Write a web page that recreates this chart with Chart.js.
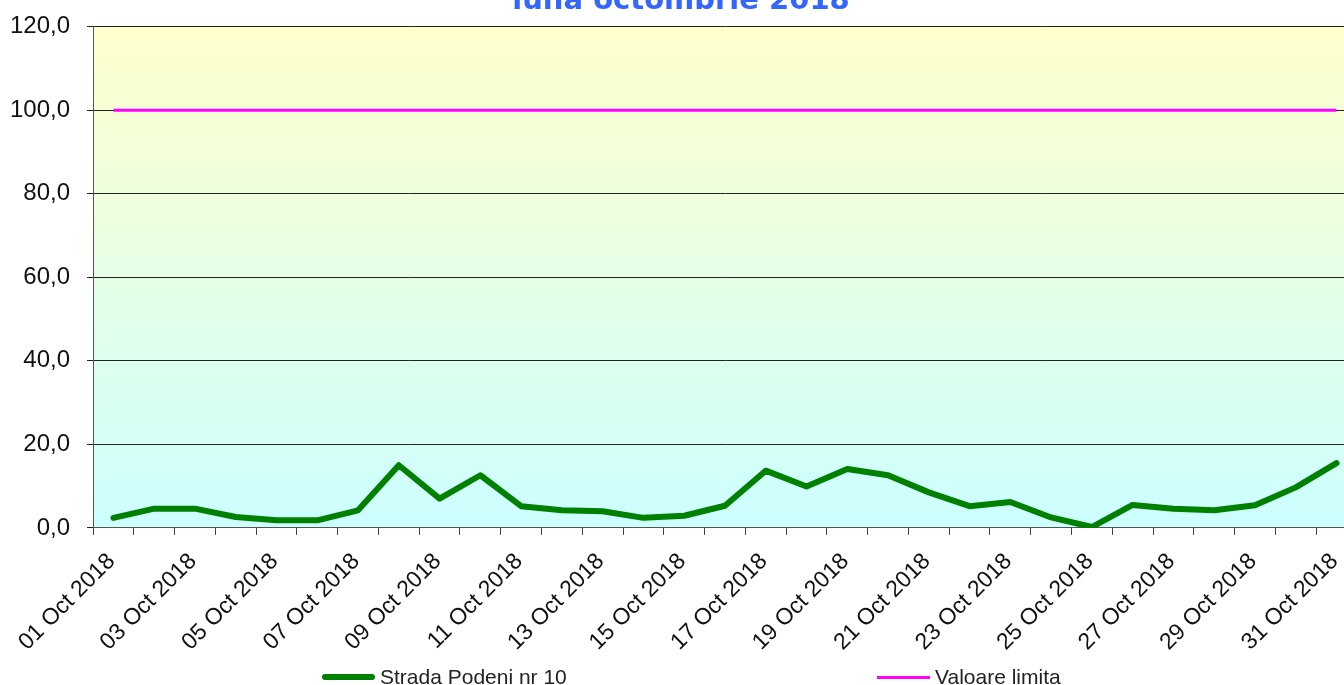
<!DOCTYPE html>
<html>
<head>
<meta charset="utf-8">
<script src="https://cdn.jsdelivr.net/npm/chart.js@4.4.0/dist/chart.umd.min.js"></script>
<style>
    html, body { margin: 0; padding: 0; background: #ffffff; overflow: hidden; }
    body { width: 1344px; height: 685px; position: relative; }
    #wrap { position: absolute; left: -7px; top: -16px; width: 1376px; height: 685px; }
    #legend { position: absolute; left: 0; top: 665px; width: 1344px; height: 24px;
        font-family: 'Liberation Sans', Arial, sans-serif; font-size: 21px; color: #222; }
    .item { position: absolute; top: 0; display: flex; align-items: center; height: 24px; }
    .swatch { display: inline-block; width: 53px; margin-right: 5px; }
</style>
</head>
<body>
<div id="wrap"><canvas id="pm10Chart"></canvas></div>
<div id="legend">
    <div class="item" style="left:322px"><span class="swatch" style="height:6px;background:#008000;border-radius:3px"></span><span id="lbl-main"></span></div>
    <div class="item" style="left:877px"><span class="swatch" style="height:3px;background:#ff00ff"></span><span id="lbl-limit"></span></div>
</div>
<script>
// Daily values, October 2018
const days = [
    '01 Oct 2018', '02 Oct 2018', '03 Oct 2018', '04 Oct 2018', '05 Oct 2018', '06 Oct 2018',
    '07 Oct 2018', '08 Oct 2018', '09 Oct 2018', '10 Oct 2018', '11 Oct 2018', '12 Oct 2018',
    '13 Oct 2018', '14 Oct 2018', '15 Oct 2018', '16 Oct 2018', '17 Oct 2018', '18 Oct 2018',
    '19 Oct 2018', '20 Oct 2018', '21 Oct 2018', '22 Oct 2018', '23 Oct 2018', '24 Oct 2018',
    '25 Oct 2018', '26 Oct 2018', '27 Oct 2018', '28 Oct 2018', '29 Oct 2018', '30 Oct 2018',
    '31 Oct 2018'
];
const podeniValues = [
    2.4, 4.6, 4.6, 2.6, 1.8, 1.8, 4.2, 15.0, 7.0, 12.6, 5.2,
    4.2, 4.0, 2.4, 2.9, 5.3, 13.7, 9.9, 14.1, 12.6, 8.5, 5.2,
    6.2, 2.5, 0.2, 5.5, 4.6, 4.2, 5.4, 9.7, 15.5
];
const limitValues = [
    100, 100, 100, 100, 100, 100, 100, 100, 100, 100, 100,
    100, 100, 100, 100, 100, 100, 100, 100, 100, 100, 100,
    100, 100, 100, 100, 100, 100, 100, 100, 100
];
const seriesNames = ['Strada Podeni nr 10', 'Valoare limita'];
const chartTitle = 'luna octombrie 2018';

document.getElementById('lbl-main').textContent = seriesNames[0];
document.getElementById('lbl-limit').textContent = seriesNames[1];

// Yellow to cyan fill behind the plot
const plotBackground = {
    id: 'plotBackground',
    beforeDraw(chart) {
        const area = chart.chartArea;
        const ctx = chart.ctx;
        const grad = ctx.createLinearGradient(0, area.top, 0, area.bottom);
        grad.addColorStop(0, '#ffffcc');
        grad.addColorStop(1, '#ccffff');
        ctx.save();
        ctx.fillStyle = grad;
        ctx.fillRect(area.left, area.top, area.right - area.left, area.bottom - area.top);
        ctx.restore();
    }
};

const ctx = document.getElementById('pm10Chart');
new Chart(ctx, {
    type: 'line',
    data: {
        labels: days,
        datasets: [{
            label: seriesNames[0],
            data: podeniValues,
            borderColor: '#008000',
            borderWidth: 6,
            pointRadius: 0,
            tension: 0,
            borderCapStyle: 'round',
            borderJoinStyle: 'round'
        }, {
            label: seriesNames[1],
            data: limitValues,
            borderColor: '#ff00ff',
            borderWidth: 3,
            pointRadius: 0,
            tension: 0
        }]
    },
    options: {
        responsive: true,
        maintainAspectRatio: false,
        animation: false,
        layout: {
            padding: { left: 0, right: 0, top: 0, bottom: 0 }
        },
        plugins: {
            legend: { display: false },
            tooltip: { enabled: false },
            title: {
                display: true,
                text: chartTitle,
                color: '#3366ff',
                font: { family: 'DejaVu Sans', size: 29, weight: 'bold' },
                padding: { top: 0, bottom: 8 }
            }
        },
        scales: {
            x: {
                offset: true,
                grid: {
                    offset: true,
                    drawOnChartArea: false,
                    color: '#444',
                    tickLength: 7
                },
                border: { display: true, color: '#555', width: 1 },
                ticks: {
                    autoSkip: false,
                    minRotation: 45,
                    maxRotation: 45,
                    color: '#111',
                    padding: 13,
                    labelOffset: -2,
                    font: { family: 'Liberation Sans', size: 23 },
                    callback: function(value, index) {
                        return index % 2 === 0 ? this.getLabelForValue(value) : '';
                    }
                }
            },
            y: {
                min: 0,
                max: 120,
                grid: {
                    color: '#222',
                    lineWidth: 1,
                    tickLength: 6
                },
                border: { display: true, color: '#555', width: 1 },
                ticks: {
                    stepSize: 20,
                    color: '#111',
                    padding: 17,
                    font: { family: 'Liberation Sans', size: 24 },
                    callback: function(value) {
                        return value.toFixed(1).replace('.', ',');
                    }
                }
            }
        }
    },
    plugins: [plotBackground]
});
</script>
</body>
</html>
